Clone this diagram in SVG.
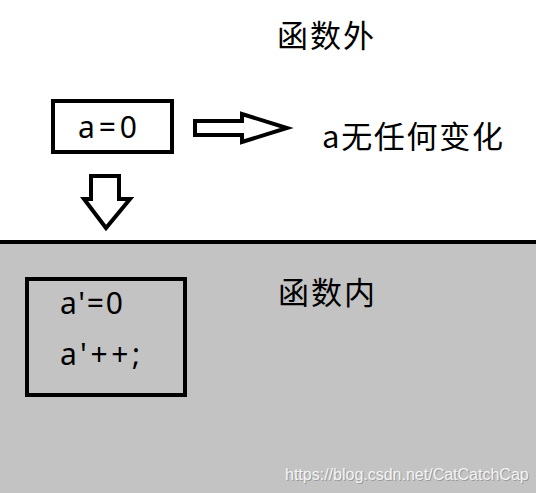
<svg xmlns="http://www.w3.org/2000/svg" width="536" height="493" viewBox="0 0 536 493">
<style>
.box{fill:none;stroke:#000;stroke-width:4}
.arr{fill:#fff;stroke:#000;stroke-width:4;stroke-linejoin:miter}
.t{font-family:"Noto Sans CJK SC","Microsoft YaHei",sans-serif;fill:#000}
.l{font-family:"Noto Sans","Noto Sans CJK SC",sans-serif;fill:#000}
.wm{font-family:"Liberation Sans",Arial,sans-serif;font-size:16px}
</style>
<rect x="0" y="0" width="536" height="493" fill="#fff"/>
<rect x="0" y="242" width="536" height="251" fill="#c3c3c3"/>
<rect x="0" y="240" width="536" height="4" fill="#000"/>
<g id="label-outside">
<text class="t" x="277" y="47" font-size="31" textLength="97" lengthAdjust="spacing">函数外</text>
</g>
<g id="node-a0">
<rect class="box" x="53" y="101" width="119" height="51"/>
<text class="l" x="78" y="138" font-size="30" textLength="59" lengthAdjust="spacing">a=0</text>
</g>
<g id="label-nochange">
<text class="t" x="322" y="148" font-size="31" textLength="181" lengthAdjust="spacing">a无任何变化</text>
</g>
<g id="connectors">
<polygon class="arr" points="195,121 242,121 242,114 287,128 242,142 242,135 195,135"/>
<polygon class="arr" points="91,176 119,176 119,199 130,199 106,228 84,199 91,199"/>
</g>
<g id="label-inside">
<text class="t" x="278" y="304" font-size="31" textLength="97" lengthAdjust="spacing">函数内</text>
</g>
<g id="node-inner">
<rect class="box" x="27" y="279" width="158" height="116"/>
<text class="l" x="60" y="314" font-size="30" textLength="63" lengthAdjust="spacing">a'=0</text>
<text class="l" x="60" y="365" font-size="30" textLength="80" lengthAdjust="spacing">a'++;</text>
</g>
<g id="watermark">
<text class="wm" x="286" y="481" fill="#9a9a9a">https://blog.csdn.net/CatCatchCap</text>
<text class="wm" x="285" y="480" fill="#f4f4f4">https://blog.csdn.net/CatCatchCap</text>
</g>
</svg>
